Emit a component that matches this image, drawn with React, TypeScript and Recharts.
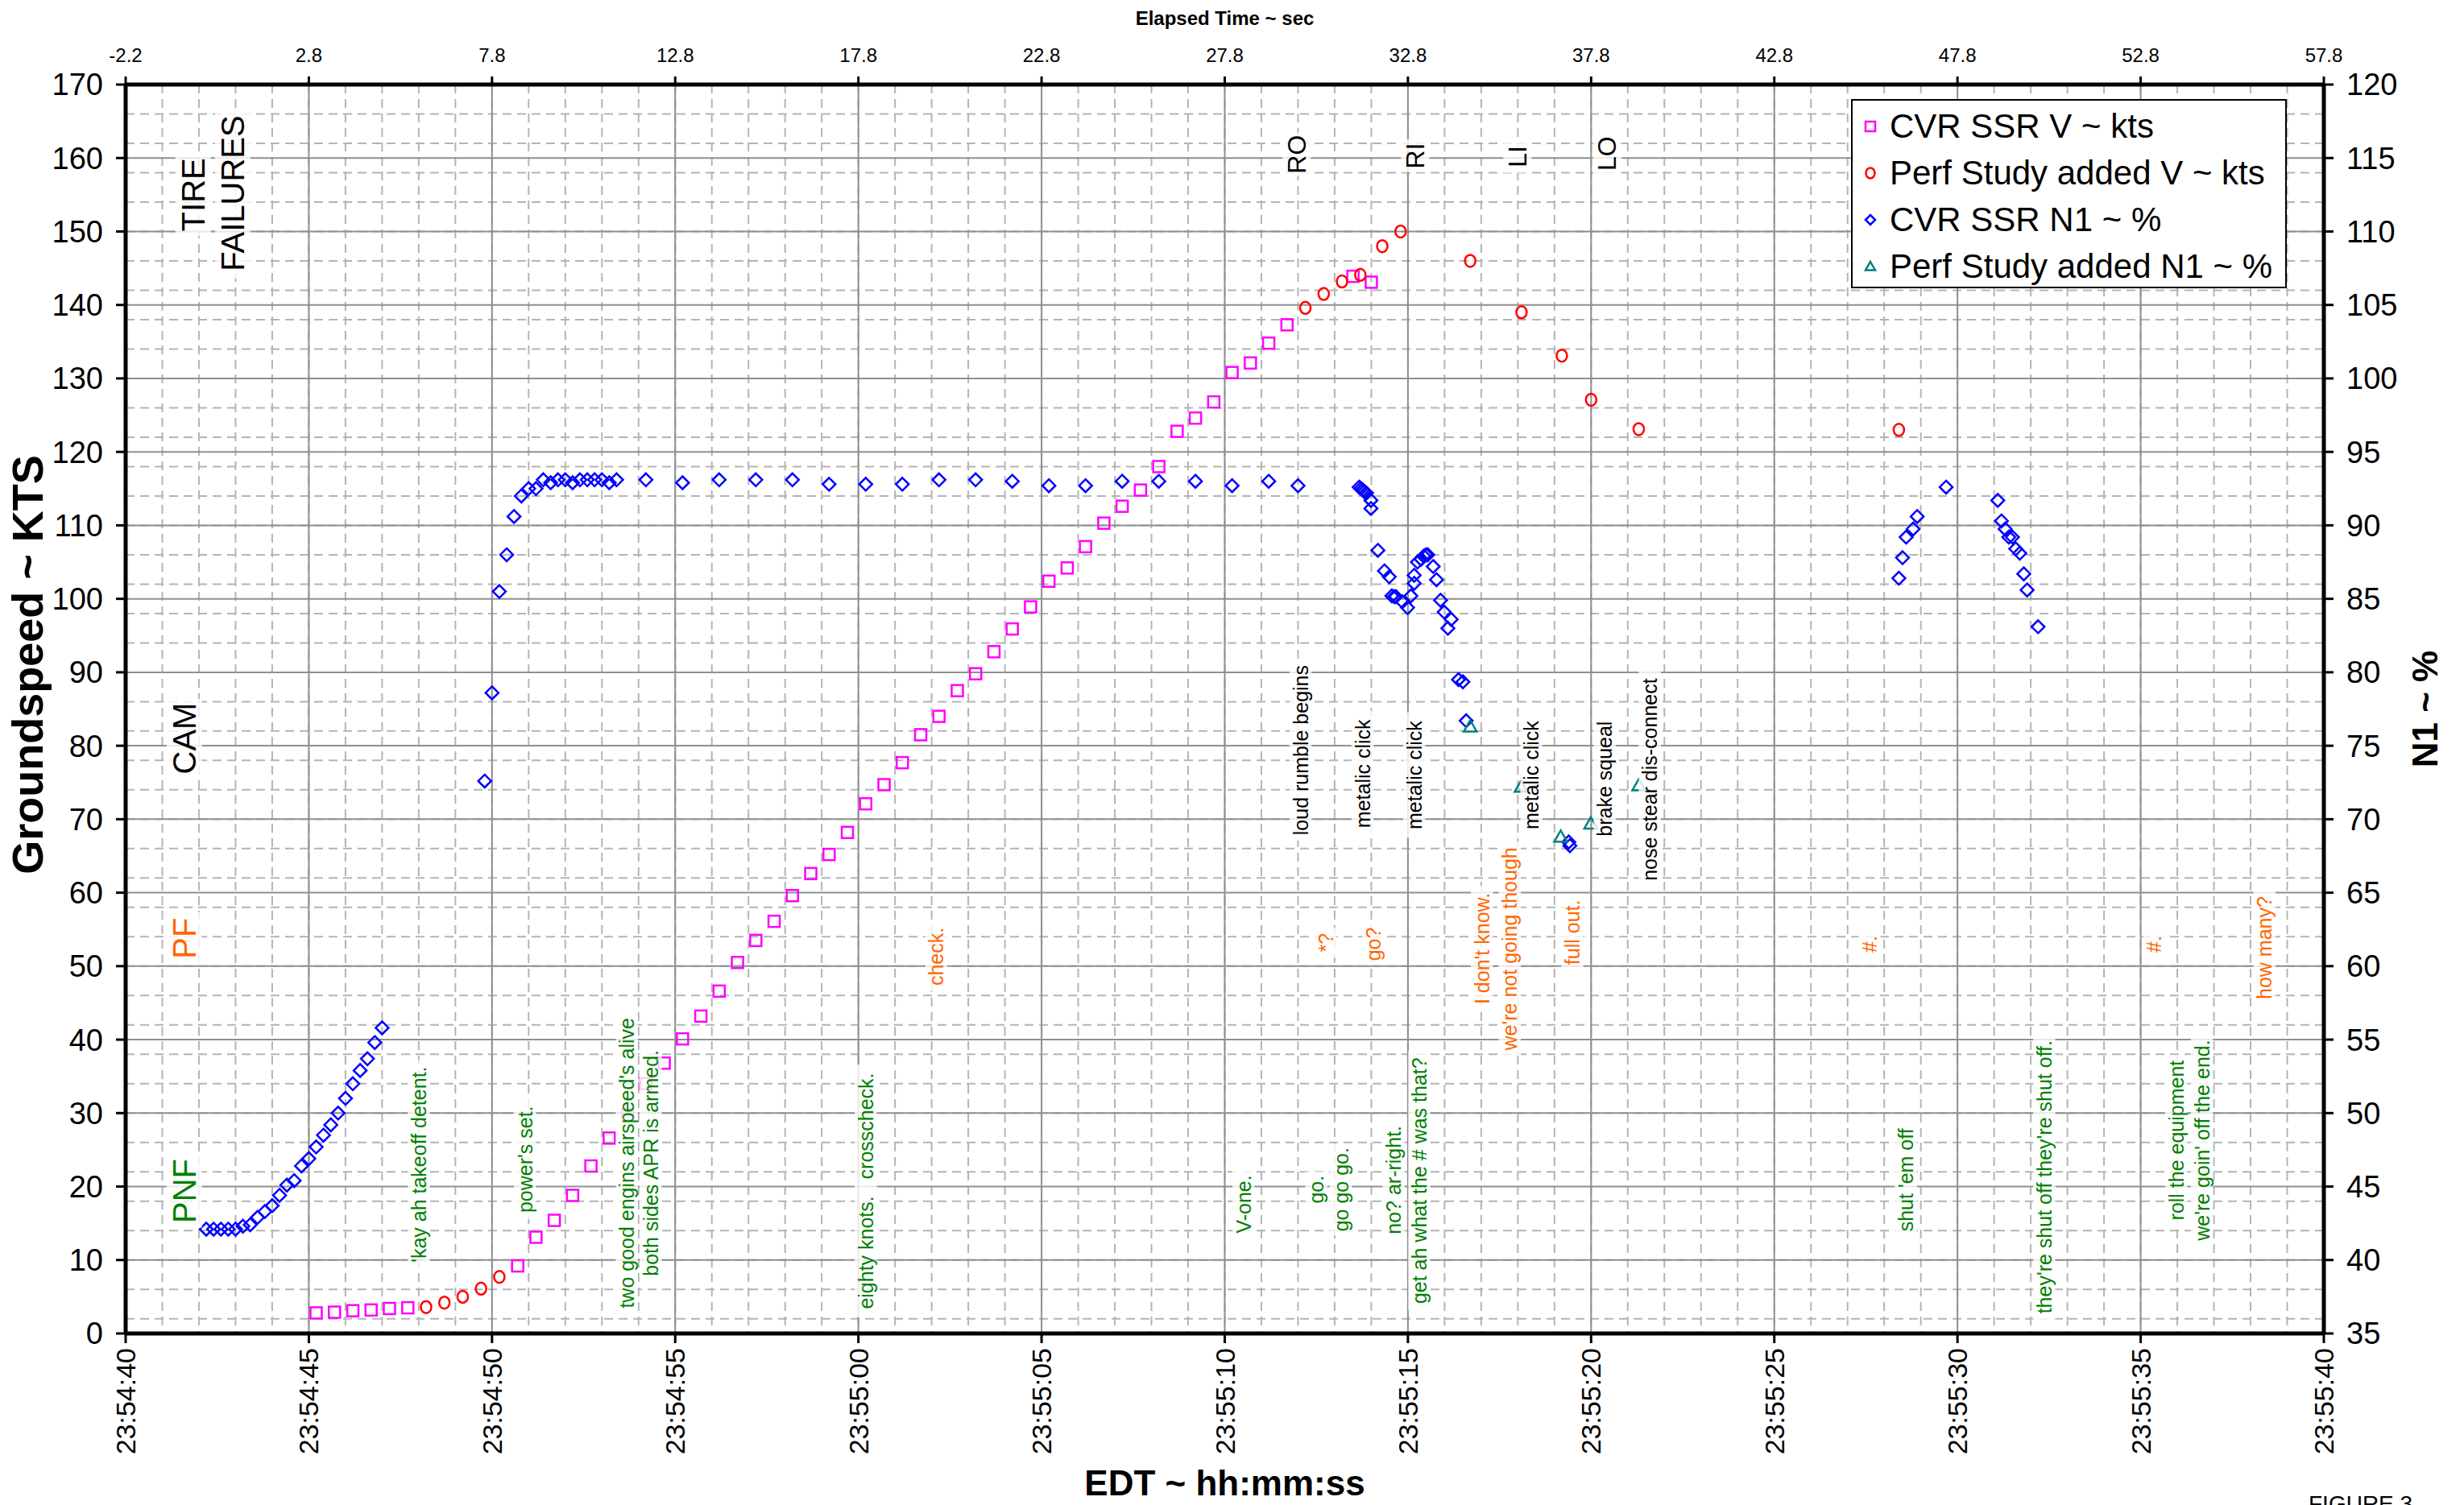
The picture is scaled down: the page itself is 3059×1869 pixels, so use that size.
import React from 'react';
import { ScatterChart, Scatter, XAxis, YAxis, CartesianGrid, Legend } from 'recharts';

const FONT = '"Liberation Sans", Arial, sans-serif';
const W = 3059;
const H = 1869;

// time axis: seconds after 23:54:40 EDT
const majorTime = [0, 5, 10, 15, 20, 25, 30, 35, 40, 45, 50, 55, 60];
const minorTime = Array.from({ length: 61 }, (_, i) => i);
const speedTicks = [0, 10, 20, 30, 40, 50, 60, 70, 80, 90, 100, 110, 120, 130, 140, 150, 160, 170];
const speedMinor = Array.from({ length: 86 }, (_, i) => i * 2);
const n1Ticks = [35, 40, 45, 50, 55, 60, 65, 70, 75, 80, 85, 90, 95, 100, 105, 110, 115, 120];

// CVR SSR groundspeed
const cvrVTime = [5.2, 5.7, 6.2, 6.7, 7.2, 7.7,
  10.7, 11.2, 11.7, 12.2, 12.7, 13.2, 13.7, 14.2, 14.7, 15.2, 15.7, 16.2, 16.7, 17.2, 17.7, 18.2, 18.7, 19.2, 19.7, 20.2,
  20.7, 21.2, 21.7, 22.2, 22.7, 23.2, 23.7, 24.2, 24.7, 25.2, 25.7, 26.2, 26.7, 27.2, 27.7, 28.2, 28.7, 29.2, 29.7, 30.2,
  30.7, 31.2, 31.7, 33.5, 34.0];
const cvrV = [2.8, 2.9, 3.1, 3.2, 3.4, 3.5,
  9.2, 13.1, 15.4, 18.8, 22.8, 26.6, 29.8, 34.0, 36.8, 40.1, 43.2, 46.6, 50.5, 53.5, 56.1, 59.6, 62.6, 65.2, 68.2, 72.1,
  74.7, 77.7, 81.5, 84.0, 87.5, 89.8, 92.8, 95.9, 98.9, 102.4, 104.2, 107.1, 110.3, 112.6, 114.8, 118.0, 122.8, 124.6, 126.8, 130.8,
  132.1, 134.8, 137.3, 143.9, 143.1];

// performance study groundspeed
const perfVTime = [8.2, 8.7, 9.2, 9.7, 10.2, 32.2, 32.7, 33.2, 33.7, 34.3, 34.8, 36.7, 38.1, 39.2, 40.0, 41.3, 48.4];
const perfV = [3.6, 4.2, 5.0, 6.1, 7.7, 139.6, 141.5, 143.2, 144.1, 148.0, 150.0, 146.0, 139.0, 133.1, 127.1, 123.1, 123.0];

// CVR SSR N1
const cvrN1Time = [2.2, 2.4, 2.6, 2.8, 3.0, 3.2, 3.4, 3.6, 3.8, 4.0, 4.2, 4.4, 4.6, 4.8, 5.0, 5.2, 5.4, 5.6, 5.8, 6.0, 6.2, 6.4, 6.6, 6.8, 7.0,
  9.8, 10.0, 10.2, 10.4, 10.6, 10.8, 11.0, 11.2, 11.4, 11.6, 11.8, 12.0, 12.2, 12.4, 12.6, 12.8, 13.0, 13.2, 13.4,
  14.2, 15.2, 16.2, 17.2, 18.2, 19.2, 20.2, 21.2, 22.2, 23.2, 24.2, 25.2, 26.2, 27.2, 28.2, 29.2, 30.2, 31.2, 32.0,
  33.67, 33.72, 33.77, 33.81, 33.87, 33.99, 33.99, 34.18, 34.36, 34.49, 34.56, 34.63, 34.67, 34.85, 34.99,
  35.08, 35.17, 35.17, 35.26, 35.36, 35.43, 35.49, 35.54, 35.69, 35.78, 35.89, 35.99, 36.09, 36.18, 36.38, 36.5, 36.59,
  39.39, 39.42,
  48.4, 48.5, 48.6, 48.79, 48.9, 49.69, 51.1, 51.2, 51.3, 51.4, 51.5, 51.59, 51.7, 51.81, 51.9, 52.2];
const cvrN1 = [42.1, 42.1, 42.1, 42.1, 42.1, 42.3, 42.4, 42.9, 43.3, 43.7, 44.4, 45.1, 45.4, 46.4, 46.9, 47.7, 48.5, 49.2, 50.0, 51.0, 52.0, 52.9, 53.7, 54.8, 55.8,
  72.6, 78.6, 85.5, 88.0, 90.6, 92.0, 92.5, 92.5, 93.1, 92.9, 93.1, 93.1, 92.9, 93.1, 93.1, 93.1, 93.1, 92.9, 93.1,
  93.1, 92.9, 93.1, 93.1, 93.1, 92.8, 92.8, 92.8, 93.1, 93.1, 93.0, 92.7, 92.7, 93.0, 93.0, 93.0, 92.7, 93.0, 92.7,
  92.6, 92.5, 92.4, 92.3, 92.2, 91.7, 91.15, 88.3, 86.9, 86.5, 85.2, 85.15, 85.15, 84.8, 84.4,
  85.2, 86.05, 86.6, 87.5, 87.7, 87.9, 88.0, 88.0, 87.2, 86.3, 84.9, 84.1, 83.0, 83.6, 79.5, 79.35, 76.7,
  68.45, 68.2,
  86.4, 87.8, 89.2, 89.75, 90.6, 92.6, 91.7, 90.3, 89.75, 89.2, 89.2, 88.4, 88.1, 86.7, 85.6, 83.1];

// performance study N1
const perfN1Time = [36.7, 38.09, 39.17, 39.99, 41.3];
const perfN1 = [76.3, 72.2, 68.8, 69.7, 72.3];

// annotations: [text, time, groundspeed]
const pnfCalls: [string, number, number][] = [
  ["'kay ah takeoff detent.", 8.0, 23],
  ["power's set.", 10.9, 23.7],
  ["two good engins airspeed's alive", 13.68, 23.2],
  ['both sides APR is armed.', 14.33, 23.2],
  ['eighty knots.   crosscheck.', 20.2, 19.4],
  ['V-one.', 30.51, 17.6],
  ['go.', 32.5, 19.6],
  ['go go go.', 33.17, 19.6],
  ['no? ar-right.', 34.61, 20.9],
  ['get ah what the # was that?', 35.31, 20.8],
  ["shut 'em off", 48.59, 20.9],
  ["they're shut off they're shut off.", 52.37, 21.3],
  ['roll the equipment', 55.97, 26.3],
  ["we're goin' off the end.", 56.67, 26.3],
];
const pfCalls: [string, number, number][] = [
  ['check.', 22.12, 51.3],
  ['*?', 32.75, 53.2],
  ['go?', 34.05, 53.0],
  ["I don't know.", 37.02, 52.4],
  ["we're not going though", 37.78, 52.35],
  ['full out.', 39.49, 54.6],
  ['#.', 47.6, 53],
  ['#.', 55.37, 53],
  ['how many?', 58.38, 52.5],
];
const camSounds: [string, number, number][] = [
  ['loud rumble begins', 32.07, 79.4],
  ['metalic click', 33.76, 76.2],
  ['metalic click', 35.17, 76.0],
  ['metalic click', 38.37, 76.0],
  ['brake squeal', 40.37, 75.5],
  ['nose stear dis-connect', 41.6, 75.4],
];
const tireMarks: [string, number, number][] = [
  ['RO', 31.96, 160.5], ['RI', 35.2, 160.3], ['LI', 37.99, 160.2], ['LO', 40.44, 160.6],
];
const sideBlack: [string, number, number][] = [['TIRE', 1.84, 155], ['FAILURES', 2.92, 155.2], ['CAM', 1.6, 81]];
const sidePF: [string, number, number][] = [['PF', 1.6, 53.8]];
const sidePNF: [string, number, number][] = [['PNF', 1.6, 19.4]];

const pts = (ts: number[], vs: number[]) => ts.map((t, i) => ({ t, v: vs[i] }));
const annos = (list: [string, number, number][]) => list.map(([label, t, v]) => ({ label, t, v }));

const clock = (s: number) => {
  const total = 23 * 3600 + 54 * 60 + 40 + s;
  const hh = Math.floor(total / 3600) % 24;
  const mm = Math.floor((total % 3600) / 60);
  const ss = Math.round(total % 60);
  const p = (n: number) => String(n).padStart(2, '0');
  return `${p(hh)}:${p(mm)}:${p(ss)}`;
};

const charW = (c: string) => {
  if (' il.,\'!|:;jtfrI'.includes(c)) return 0.28;
  if ('mwMW%'.includes(c)) return 0.85;
  if (c >= 'A' && c <= 'Z') return 0.68;
  return 0.55;
};
const approxWidth = (s: string, size: number) => s.split('').reduce((a, c) => a + charW(c), 0) * size;

const Square = ({ cx, cy, s = 14 }: any) => (
  <rect x={cx - s / 2} y={cy - s / 2} width={s} height={s} fill="none" stroke="#FF00FF" strokeWidth={2.5} />
);
const Ring = ({ cx, cy, s = 14 }: any) => (
  <ellipse cx={cx} cy={cy} rx={s / 2 - 0.5} ry={s / 2 + 0.5} fill="none" stroke="#FF0000" strokeWidth={2.5} />
);
const Diamond = ({ cx, cy, s = 16 }: any) => (
  <path d={`M${cx},${cy - s / 2}L${cx + s / 2},${cy}L${cx},${cy + s / 2}L${cx - s / 2},${cy}Z`} fill="none" stroke="#0000FF" strokeWidth={2.5} />
);
const Tri = ({ cx, cy, s = 16 }: any) => (
  <path d={`M${cx},${cy - s / 2}L${cx + s / 2},${cy + s * 0.38}L${cx - s / 2},${cy + s * 0.38}Z`} fill="none" stroke="#008080" strokeWidth={2.5} />
);

const annoShape = (color: string, size: number) => (p: any) => {
  const { cx, cy, payload } = p;
  const len = approxWidth(payload.label, size);
  const th = size * 1.1;
  return (
    <g>
      <rect x={cx - th / 2} y={cy - len / 2 - 5} width={th} height={len + 10} fill="#fff" fillOpacity={0.8} />
      <text x={cx} y={cy} transform={`rotate(-90 ${cx} ${cy})`} textAnchor="middle" dominantBaseline="central"
        fill={color} fontSize={size} fontFamily={FONT} style={{ whiteSpace: 'pre' }}>{payload.label}</text>
    </g>
  );
};

const series = [
  { name: 'CVR SSR V ~ kts', Icon: Square },
  { name: 'Perf Study added V ~ kts', Icon: Ring },
  { name: 'CVR SSR N1 ~ %', Icon: Diamond },
  { name: 'Perf Study added N1 ~ %', Icon: Tri },
];

const LegendBox = () => (
  <div style={{ width: 541, height: 235, border: '2px solid #000', background: '#fff', fontFamily: FONT, fontSize: 42, paddingTop: 3, boxSizing: 'border-box' }}>
    {series.map(({ name, Icon }) => (
      <div key={name} style={{ display: 'flex', alignItems: 'center', height: 58, whiteSpace: 'nowrap' }}>
        <svg width={46} height={30}><Icon cx={22} cy={15} s={12} /></svg>
        <span style={{ lineHeight: '58px' }}>{name}</span>
      </div>
    ))}
  </div>
);

const TimeTick = (props: any) => {
  const { x, y, payload } = props;
  return (
    <text x={x} y={y} transform={`rotate(-90 ${x} ${y})`} textAnchor="end" dominantBaseline="central"
      fontSize={34} fontFamily={FONT} fill="#000">{clock(payload.value)}</text>
  );
};

const axisLine = { stroke: '#000', strokeWidth: 5 };
const tickLine = { stroke: '#000', strokeWidth: 3 };

export default function App() {
  return (
    <div style={{ position: 'absolute', left: 0, top: 0, width: W, height: H, overflow: 'hidden', background: '#fff' }}>
      <ScatterChart width={W} height={H} margin={{ top: 0, right: 0, bottom: 0, left: 0 }}>
        <XAxis xAxisId="minorX" type="number" dataKey="t" domain={[0, 60]} ticks={minorTime} hide allowDataOverflow />
        <YAxis yAxisId="minorY" type="number" dataKey="v" domain={[0, 170]} ticks={speedMinor} hide allowDataOverflow />
        <CartesianGrid xAxisId="minorX" yAxisId="minorY" stroke="#b4b4b4" strokeWidth={2} strokeDasharray="11 7" />
        <CartesianGrid xAxisId="bottom" yAxisId="left" stroke="#8f8f8f" strokeWidth={2} />

        <XAxis xAxisId="bottom" type="number" dataKey="t" domain={[0, 60]} ticks={majorTime} height={213}
          allowDataOverflow axisLine={axisLine} tickLine={tickLine} tickSize={12} tickMargin={6} tick={<TimeTick />}
          label={{
            content: (p: any) => (
              <text x={p.viewBox.x + p.viewBox.width / 2} y={1841} textAnchor="middle" dominantBaseline="central"
                fontSize={44} fontWeight="bold" fontFamily={FONT}>EDT ~ hh:mm:ss</text>
            ),
          }} />
        <XAxis xAxisId="top" orientation="top" type="number" dataKey="t" domain={[0, 60]} ticks={majorTime} height={105}
          allowDataOverflow axisLine={axisLine} tickLine={tickLine} tickSize={10} tickMargin={18}
          tickFormatter={(v: number) => (v - 2.2).toFixed(1)}
          tick={{ fontSize: 24, fill: '#000', fontFamily: FONT }}
          label={{
            content: (p: any) => (
              <text x={p.viewBox.x + p.viewBox.width / 2} y={22} textAnchor="middle" dominantBaseline="central"
                fontSize={24} fontWeight="bold" fontFamily={FONT}>Elapsed Time ~ sec</text>
            ),
          }} />
        <YAxis yAxisId="left" type="number" dataKey="v" domain={[0, 170]} ticks={speedTicks} width={156}
          allowDataOverflow axisLine={axisLine} tickLine={tickLine} tickSize={12} tickMargin={16}
          tick={{ fontSize: 38, fill: '#000', fontFamily: FONT }}
          label={{
            content: (p: any) => {
              const cy = p.viewBox.y + p.viewBox.height / 2 - 55;
              return (
                <text x={34} y={cy} transform={`rotate(-90 34 ${cy})`} textAnchor="middle" dominantBaseline="central"
                  fontSize={54} fontWeight="bold" fontFamily={FONT}>Groundspeed ~ KTS</text>
              );
            },
          }} />
        <YAxis yAxisId="right" orientation="right" type="number" dataKey="v" domain={[35, 120]} ticks={n1Ticks} width={174}
          allowDataOverflow axisLine={axisLine} tickLine={tickLine} tickSize={12} tickMargin={16}
          tick={{ fontSize: 38, fill: '#000', fontFamily: FONT }}
          label={{
            content: (p: any) => {
              const cx = p.viewBox.x + 125;
              const cy = p.viewBox.y + p.viewBox.height / 2;
              return (
                <text x={cx} y={cy} transform={`rotate(-90 ${cx} ${cy})`} textAnchor="middle" dominantBaseline="central"
                  fontSize={44} fontWeight="bold" fontFamily={FONT}>N1 ~ %</text>
              );
            },
          }} />

        <Scatter name="CVR SSR V ~ kts" xAxisId="bottom" yAxisId="left" data={pts(cvrVTime, cvrV)} shape={(p: any) => <Square {...p} />} isAnimationActive={false} />
        <Scatter name="Perf Study added V ~ kts" xAxisId="bottom" yAxisId="left" data={pts(perfVTime, perfV)} shape={(p: any) => <Ring {...p} />} isAnimationActive={false} />
        <Scatter name="CVR SSR N1 ~ %" xAxisId="bottom" yAxisId="right" data={pts(cvrN1Time, cvrN1)} shape={(p: any) => <Diamond {...p} />} isAnimationActive={false} />
        <Scatter name="Perf Study added N1 ~ %" xAxisId="bottom" yAxisId="right" data={pts(perfN1Time, perfN1)} shape={(p: any) => <Tri {...p} />} isAnimationActive={false} />

        <Scatter xAxisId="bottom" yAxisId="left" data={annos(pnfCalls)} shape={annoShape('#008000', 25)} isAnimationActive={false} legendType="none" />
        <Scatter xAxisId="bottom" yAxisId="left" data={annos(pfCalls)} shape={annoShape('#FF6600', 25)} isAnimationActive={false} legendType="none" />
        <Scatter xAxisId="bottom" yAxisId="left" data={annos(camSounds)} shape={annoShape('#000', 25)} isAnimationActive={false} legendType="none" />
        <Scatter xAxisId="bottom" yAxisId="left" data={annos(tireMarks)} shape={annoShape('#000', 32)} isAnimationActive={false} legendType="none" />
        <Scatter xAxisId="bottom" yAxisId="left" data={annos(sideBlack)} shape={annoShape('#000', 40)} isAnimationActive={false} legendType="none" />
        <Scatter xAxisId="bottom" yAxisId="left" data={annos(sidePF)} shape={annoShape('#FF6600', 40)} isAnimationActive={false} legendType="none" />
        <Scatter xAxisId="bottom" yAxisId="left" data={annos(sidePNF)} shape={annoShape('#008000', 40)} isAnimationActive={false} legendType="none" />

        <Legend layout="vertical" align="center" verticalAlign="middle" content={() => <LegendBox />}
          wrapperStyle={{ position: 'absolute', left: 2298, top: 123, width: 541, height: 235 }} />
      </ScatterChart>
      <div style={{ position: 'absolute', left: 2866, top: 1852, fontFamily: FONT, fontSize: 28, whiteSpace: 'nowrap' }}>FIGURE 3</div>
    </div>
  );
}
